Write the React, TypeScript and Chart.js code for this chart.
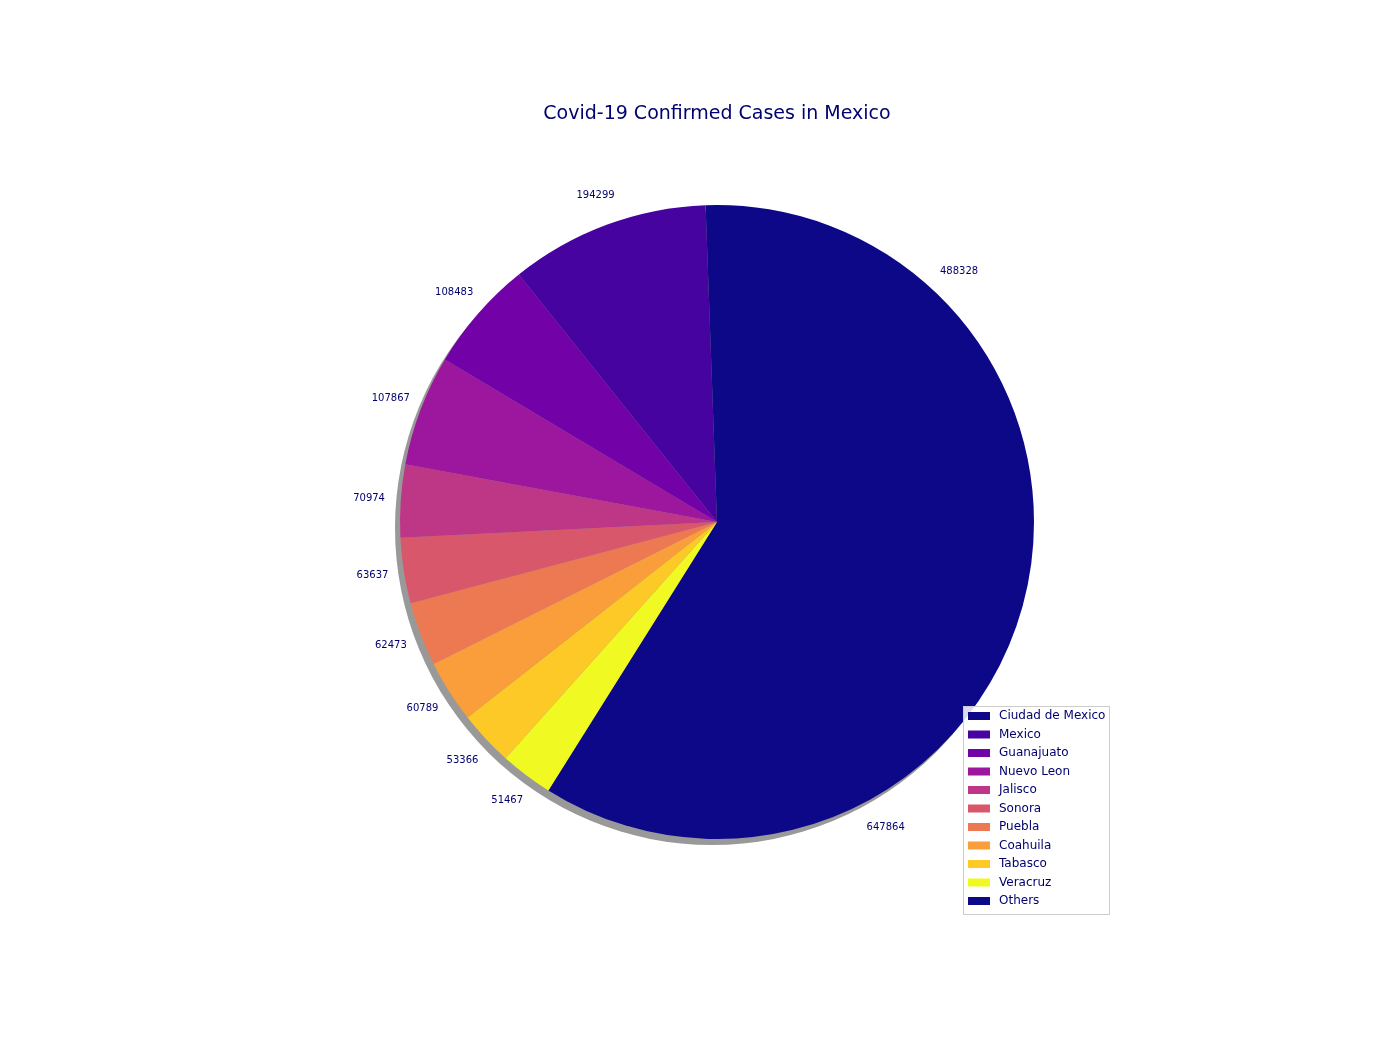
import React, { useEffect, useRef } from 'react';
import { Chart, registerables } from 'chart.js';

Chart.register(...registerables);

const states = ['Ciudad de Mexico', 'Mexico', 'Guanajuato', 'Nuevo Leon', 'Jalisco', 'Sonora', 'Puebla', 'Coahuila', 'Tabasco', 'Veracruz', 'Others'];
const cases = [488328, 194299, 108483, 107867, 70974, 63637, 62473, 60789, 53366, 51467, 647864];
const colors = ['#0d0887', '#47039f', '#7301a8', '#9c179e', '#bd3786', '#d8576b', '#ed7953', '#fa9e3b', '#fdc926', '#f0f921', '#0d0887'];
const titleText = 'Covid-19 Confirmed Cases in Mexico';

const textColor = '#00006e';

const decorations = {
  id: 'decorations',
  beforeDatasetsDraw(chart: Chart) {
    const arc: any = chart.getDatasetMeta(0).data[0];
    if (!arc) return;
    const { ctx } = chart;
    ctx.save();
    ctx.fillStyle = '#999999';
    ctx.beginPath();
    ctx.arc(arc.x - 5, arc.y + 6, arc.outerRadius, 0, Math.PI * 2);
    ctx.fill();
    ctx.restore();
  },
  afterDraw(chart: Chart) {
    const { ctx } = chart;
    const meta = chart.getDatasetMeta(0);
    ctx.save();
    ctx.fillStyle = textColor;
    ctx.font = '19px "DejaVu Sans"';
    ctx.textAlign = 'center';
    ctx.textBaseline = 'middle';
    ctx.fillText(titleText, 717, 114);

    ctx.font = '10px "DejaVu Sans"';
    meta.data.forEach((el: any, i: number) => {
      const mid = (el.startAngle + el.endAngle) / 2;
      const r = el.outerRadius * 1.1;
      const v = (chart.data.datasets[0].data as number[])[i];
      ctx.fillText(String(v), el.x + Math.cos(mid) * r, el.y + Math.sin(mid) * r);
    });

    // legend box
    const lx = 963, ly = 706, lw = 146, lh = 208;
    ctx.fillStyle = 'rgba(255,255,255,0.85)';
    ctx.fillRect(lx, ly, lw, lh);
    ctx.strokeStyle = '#cccccc';
    ctx.lineWidth = 1;
    ctx.strokeRect(lx + 0.5, ly + 0.5, lw, lh);
    ctx.font = '12px "DejaVu Sans"';
    ctx.textAlign = 'left';
    states.forEach((s, i) => {
      const y = ly + 10 + i * 18.5;
      ctx.fillStyle = colors[i];
      ctx.fillRect(lx + 5, y - 4, 22, 8);
      ctx.fillStyle = textColor;
      ctx.fillText(s, lx + 36, y);
    });
    ctx.restore();
  },
};

export default function App() {
  const canvasRef = useRef<HTMLCanvasElement>(null);

  useEffect(() => {
    document.body.style.margin = '0';
    if (!canvasRef.current) return;
    // reversed so the clockwise drawing matches a counter-clockwise pie starting at 3 o'clock
    const chart = new Chart(canvasRef.current, {
      type: 'pie',
      data: {
        labels: [...states].reverse(),
        datasets: [
          {
            data: [...cases].reverse(),
            backgroundColor: [...colors].reverse(),
            borderWidth: 0,
          },
        ],
      },
      options: {
        responsive: false,
        animation: false,
        rotation: 90,
        layout: { padding: { left: 400, right: 366, top: 205, bottom: 211 } },
        plugins: { legend: { display: false }, tooltip: { enabled: false }, title: { display: false } },
      },
      plugins: [decorations],
    });
    return () => chart.destroy();
  }, []);

  return <canvas ref={canvasRef} width={1400} height={1050} style={{ display: 'block' }} />;
}
